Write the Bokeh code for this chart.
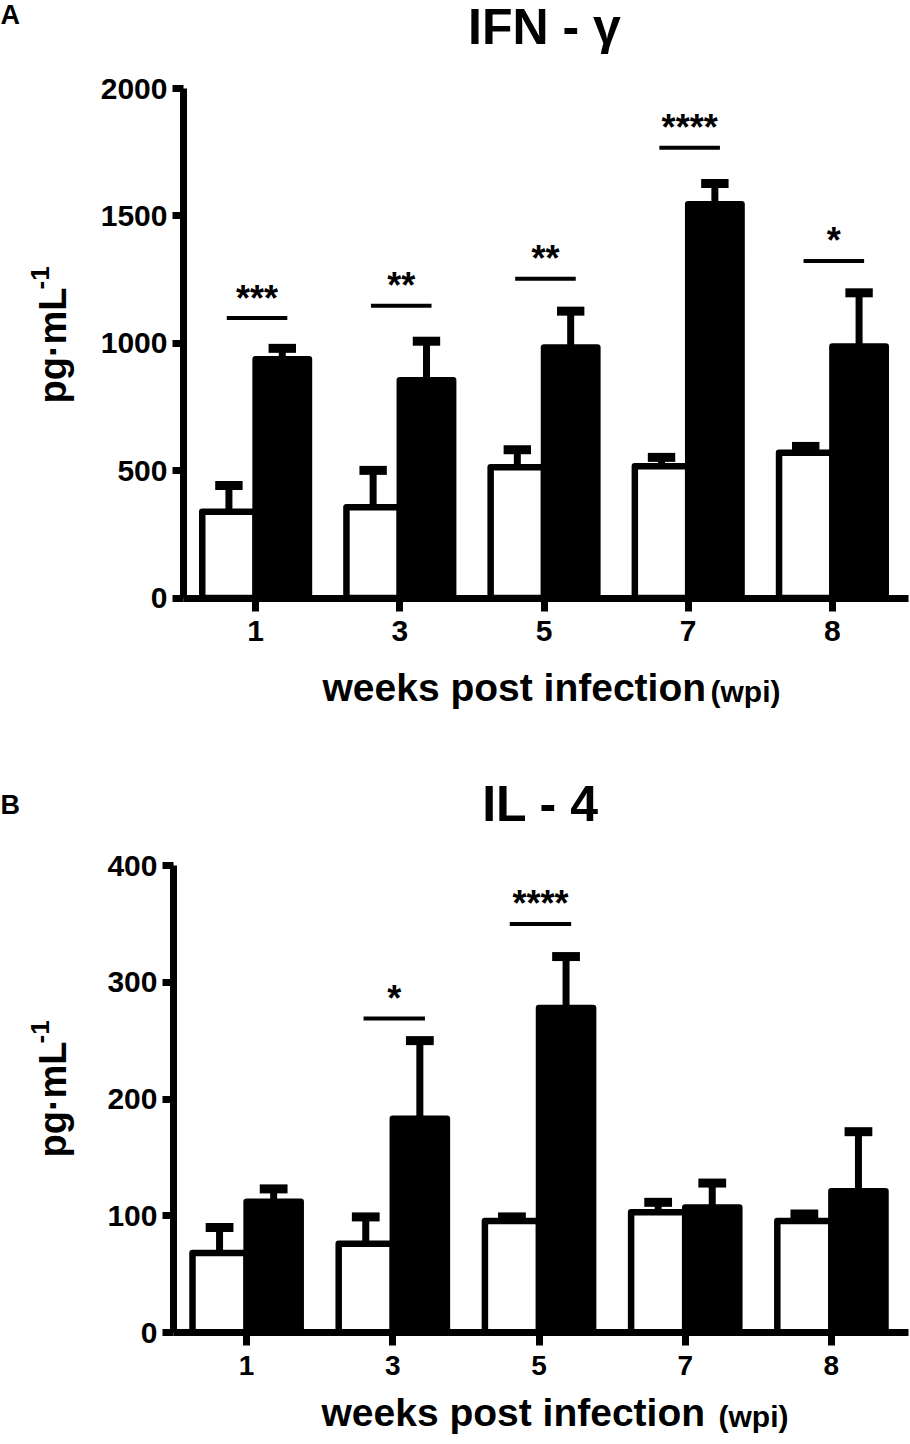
import math
from bokeh.plotting import figure
from bokeh.models import ColumnDataSource, Range1d, FixedTicker, Label, LinearAxis
from bokeh.transform import dodge
from bokeh.layouts import column
from bokeh.embed import file_html
from bokeh.resources import INLINE
from bokeh.core.properties import value

# ---------------- data ----------------
weeks = ["1", "3", "5", "7", "8"]

ifn_ctrl = [339, 356, 513, 517, 570]
ifn_ctrl_sem = [103, 145, 69, 35, 25]
ifn_inf = [937, 855, 983, 1546, 987]
ifn_inf_sem = [43, 153, 143, 81, 211]
ifn_sig_weeks = ["1", "3", "5", "7", "8"]
ifn_sig_y = [1099, 1147, 1253, 1767, 1323]
ifn_sig_txt = ["***", "**", "**", "****", "*"]
ifn_ticks = [0, 500, 1000, 1500, 2000]

il4_ctrl = [68, 76, 95.5, 103, 95.5]
il4_ctrl_sem = [22, 23, 3.5, 8.5, 6]
il4_inf = [112, 183, 278, 107, 121]
il4_inf_sem = [11, 67, 44, 21, 51]
il4_sig_weeks = ["3", "5"]
il4_sig_y = [269, 350]
il4_sig_txt = ["*", "****"]
il4_ticks = [0, 100, 200, 300, 400]

FONT = "Liberation Sans"
BAR_W = 0.37
CAP_W = 0.19
W = 910
SHIFT = 0.4  # empirical baseline correction (fraction of font size)


def make_panel(H, x_left_px, x_right_px, y0_px, ytop_px, ymax, ticks,
               ctrl, ctrl_sem, inf, inf_sem, sig_w, sig_y, sig_t,
               letter, title, texts, xtick_fs, ytick_fs):
    n = len(weeks)
    pos = [i + 1 for i in range(n)]
    # pixel geometry -> data ranges (frame covers whole canvas)
    sx = (x_right_px - x_left_px) / n
    xlo = 0.5 - x_left_px / sx
    xhi = xlo + W / sx
    ppu = (y0_px - ytop_px) / ymax
    yhi = ymax + ytop_px / ppu
    ylo = -(H - y0_px) / ppu

    def X(lx):
        return xlo + lx / sx

    def Y(ly):
        return yhi - ly / ppu

    p = figure(width=W, height=H, x_range=Range1d(xlo, xhi), y_range=Range1d(ylo, yhi),
               x_axis_type=None, y_axis_type=None, output_backend="svg",
               toolbar_location=None, min_border=0)
    p.outline_line_color = None
    p.grid.visible = False

    src = ColumnDataSource(dict(
        pos=pos, ctrl=ctrl, inf=inf,
        ctrl_top=[c + s for c, s in zip(ctrl, ctrl_sem)],
        inf_top=[c + s for c, s in zip(inf, inf_sem)],
    ))
    off_c = -BAR_W / 2
    off_i = BAR_W / 2

    p.vbar(x=dodge('pos', off_c), top='ctrl', bottom=0, width=BAR_W,
           fill_color='white', line_color='black', line_width=6.5, line_join='round', source=src)
    p.segment(x0=dodge('pos', off_c), x1=dodge('pos', off_c),
              y0='ctrl', y1='ctrl_top', line_color='black', line_width=7, source=src)
    p.segment(x0=dodge('pos', off_c - CAP_W / 2), x1=dodge('pos', off_c + CAP_W / 2),
              y0='ctrl_top', y1='ctrl_top', line_color='black', line_width=9, source=src)

    p.vbar(x=dodge('pos', off_i), top='inf', bottom=0, width=BAR_W,
           fill_color='black', line_color='black', line_width=6.5, line_join='round', source=src)
    p.segment(x0=dodge('pos', off_i), x1=dodge('pos', off_i),
              y0='inf', y1='inf_top', line_color='black', line_width=7, source=src)
    p.segment(x0=dodge('pos', off_i - CAP_W / 2), x1=dodge('pos', off_i + CAP_W / 2),
              y0='inf_top', y1='inf_top', line_color='black', line_width=9, source=src)

    sig_pos = [pos[weeks.index(w)] for w in sig_w]
    ssrc = ColumnDataSource(dict(pos=sig_pos, y=sig_y, t=sig_t))
    p.segment(x0=dodge('pos', -0.2), x1=dodge('pos', 0.22),
              y0='y', y1='y', line_color='black', line_width=4, source=ssrc)
    p.text(x=dodge('pos', 0.01), y='y', text='t', y_offset=-20,
           text_align='center', text_baseline='alphabetic', text_color='black',
           text_font=value(FONT), text_font_style='bold', text_font_size='36px', source=ssrc)

    # axes (library axes, fixed at the data origin)
    ax = LinearAxis(fixed_location=0, bounds=(0.5, n + 0.53),
                    ticker=FixedTicker(ticks=pos, minor_ticks=[]),
                    major_label_overrides={pp: w for pp, w in zip(pos, weeks)})
    ax.axis_line_width = 7
    ax.axis_line_color = 'black'
    ax.major_tick_line_width = 7
    ax.major_tick_line_color = 'black'
    ax.major_tick_out = 13
    ax.major_tick_in = 0
    ax.minor_tick_line_color = None
    ax.major_label_text_font = FONT
    ax.major_label_text_font_style = 'bold'
    ax.major_label_text_font_size = xtick_fs
    ax.major_label_text_color = 'black'
    ax.major_label_standoff = 10
    p.add_layout(ax, 'below')

    ay = LinearAxis(fixed_location=0.5, bounds=(0, ymax),
                    ticker=FixedTicker(ticks=ticks, minor_ticks=[]))
    ay.axis_line_width = 7
    ay.axis_line_color = 'black'
    ay.major_tick_line_width = 7
    ay.major_tick_line_color = 'black'
    ay.major_tick_out = 11
    ay.major_tick_in = 0
    ay.minor_tick_line_color = None
    ay.major_label_text_font = FONT
    ay.major_label_text_font_style = 'bold'
    ay.major_label_text_font_size = ytick_fs
    ay.major_label_text_color = 'black'
    ay.major_label_standoff = 5
    p.add_layout(ay, 'left')

    def lab(txt, lx, ly, size, align='left', rotated=False):
        if rotated:
            lx = lx - SHIFT * size
            angle = math.pi / 2
        else:
            ly = ly - SHIFT * size
            angle = 0.0
        p.add_layout(Label(x=X(lx), y=Y(ly), text=txt, text_font=FONT, text_font_style='bold',
                           text_font_size=f"{size}px", text_color='black', text_align=align,
                           text_baseline='alphabetic', angle=angle))

    lab(letter, texts['letter'][0], texts['letter'][1], 27)
    lab(title, texts['title'][0], texts['title'][1], 50, align='center')
    lab("pg·mL", texts['ylab'][0], texts['ylab'][1], 38, rotated=True)
    lab("-1", texts['ysup'][0], texts['ysup'][1], 26, rotated=True)
    lab("weeks post infection", texts['xlab'][0], texts['xlab'][1], 39)
    lab("(wpi)", texts['wpi'][0], texts['wpi'][1], 30)
    return p


pA = make_panel(760, 183, 904, 597.5, 88, 2000, ifn_ticks,
                ifn_ctrl, ifn_ctrl_sem, ifn_inf, ifn_inf_sem,
                ifn_sig_weeks, ifn_sig_y, ifn_sig_txt, "A", "IFN - γ",
                dict(letter=(0, 25), title=(544, 46), ylab=(68, 403), ysup=(50, 289),
                     xlab=(322, 703), wpi=(710, 703)),
                '30px', '30px')

pB = make_panel(680, 173, 904, 572, 105, 400, il4_ticks,
                il4_ctrl, il4_ctrl_sem, il4_inf, il4_inf_sem,
                il4_sig_weeks, il4_sig_y, il4_sig_txt, "B", "IL - 4",
                dict(letter=(0, 55), title=(540, 63), ylab=(68, 397), ysup=(50, 283),
                     xlab=(321, 668), wpi=(718, 668)),
                '28px', '30px')

layout = column(pA, pB)
open("out.html", "w").write(file_html(layout, INLINE))
